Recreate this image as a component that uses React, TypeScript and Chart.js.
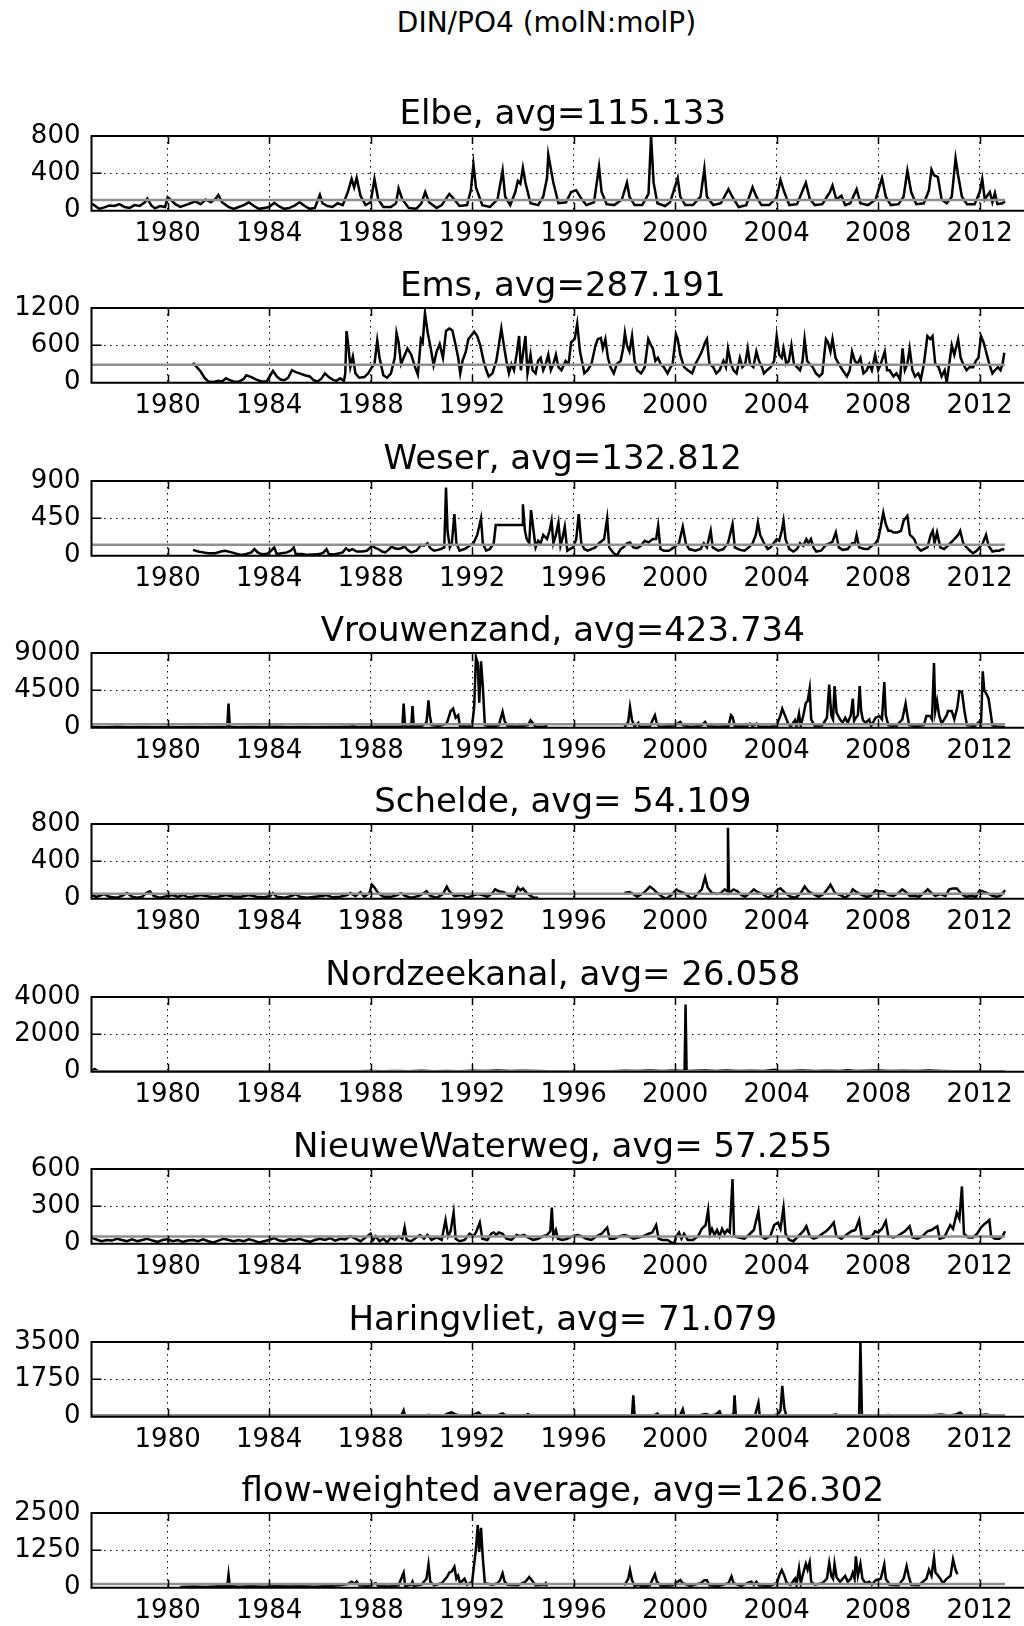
import React, { useEffect, useRef } from 'react';
import { Chart, registerables } from 'chart.js';

Chart.register(...registerables);

type Pt = [number, number | null];

const FONT = '"DejaVu Sans", "Liberation Sans", sans-serif';
const SUPTITLE = 'DIN/PO4 (molN:molP)';
const X_MIN = 1977;
const X_MAX = 2014.14;
const X_TICKS = [1980, 1984, 1988, 1992, 1996, 2000, 2004, 2008, 2012];
const AVG_SPAN = [1977, 2013];

const NAMES = ['Elbe', 'Ems', 'Weser', 'Vrouwenzand', 'Schelde', 'Nordzeekanal', 'NieuweWaterweg', 'Haringvliet', 'flow-weighted average'];
const AVG_TEXT = ['115.133', '287.191', '132.812', '423.734', ' 54.109', ' 26.058', ' 57.255', ' 71.079', '126.302'];
const AVGS = [115.133, 287.191, 132.812, 423.734, 54.109, 26.058, 57.255, 71.079, 126.302];
const Y_MAX = [800, 1200, 900, 9000, 800, 4000, 600, 3500, 2500];

const ELBE: Pt[] = [
  [1977.0, 75], [1977.1, 60], [1977.3, 20], [1977.5, 35], [1977.7, 55], [1977.9, 50], [1978.1, 70], [1978.3, 40], [1978.5, 30], [1978.7, 60], [1978.9, 50],
  [1979.1, 90], [1979.2, 130], [1979.35, 60], [1979.5, 25], [1979.7, 50], [1979.9, 40], [1980.0, 145], [1980.15, 110], [1980.3, 70], [1980.5, 40], [1980.7, 60], [1980.9, 80],
  [1981.1, 100], [1981.3, 70], [1981.5, 120], [1981.7, 90], [1981.9, 130], [1982.0, 170], [1982.15, 90], [1982.4, 40], [1982.6, 20], [1982.8, 40],
  [1983.0, 60], [1983.2, 90], [1983.4, 50], [1983.6, 20], [1983.8, 30], [1984.0, 40], [1984.2, 85], [1984.4, 45], [1984.6, 20], [1984.8, 30],
  [1985.0, 55], [1985.2, 90], [1985.4, 50], [1985.6, 20], [1985.8, 30], [1986.0, 170], [1986.1, 80], [1986.3, 50], [1986.5, 40], [1986.7, 80], [1986.9, 60],
  [1987.1, 200], [1987.25, 340], [1987.35, 250], [1987.45, 350], [1987.6, 160], [1987.8, 60], [1988.0, 90], [1988.15, 340], [1988.3, 120], [1988.5, 40], [1988.8, 40],
  [1989.0, 80], [1989.1, 240], [1989.25, 120], [1989.5, 30], [1989.8, 20], [1990.0, 80], [1990.15, 200], [1990.3, 90], [1990.6, 30], [1990.8, 60],
  [1991.0, 140], [1991.1, 180], [1991.3, 120], [1991.5, 50], [1991.8, 60], [1991.95, 220], [1992.05, 500], [1992.15, 250], [1992.4, 60], [1992.7, 40],
  [1993.0, 120], [1993.2, 430], [1993.3, 150], [1993.5, 60], [1993.7, 200], [1993.8, 320], [1993.9, 290], [1994.0, 460], [1994.1, 300], [1994.3, 80], [1994.6, 60], [1994.8, 150],
  [1994.95, 350], [1995.0, 600], [1995.1, 450], [1995.2, 300], [1995.4, 80], [1995.7, 90], [1995.9, 200], [1996.1, 220], [1996.3, 130], [1996.5, 60], [1996.8, 90],
  [1997.0, 470], [1997.1, 200], [1997.3, 70], [1997.6, 60], [1997.9, 120], [1998.1, 300], [1998.2, 150], [1998.4, 60], [1998.7, 60], [1998.95, 180],
  [1999.05, 800], [1999.15, 300], [1999.3, 80], [1999.6, 50], [1999.8, 90], [2000.1, 350], [2000.2, 150], [2000.4, 60], [2000.7, 60],
  [2001.0, 150], [2001.15, 450], [2001.25, 150], [2001.5, 60], [2001.8, 80], [2002.1, 230], [2002.25, 150], [2002.5, 40], [2002.8, 60],
  [2003.05, 250], [2003.2, 150], [2003.4, 60], [2003.7, 60], [2004.0, 140], [2004.15, 330], [2004.3, 200], [2004.5, 60], [2004.8, 70],
  [2005.15, 300], [2005.3, 130], [2005.5, 60], [2005.8, 70], [2006.1, 200], [2006.2, 270], [2006.35, 120], [2006.55, 160], [2006.7, 60], [2006.9, 80],
  [2007.15, 230], [2007.3, 80], [2007.6, 60], [2007.9, 120], [2008.15, 350], [2008.3, 150], [2008.5, 60], [2008.8, 70],
  [2009.0, 150], [2009.15, 430], [2009.3, 200], [2009.5, 70], [2009.8, 80], [2010.0, 220], [2010.1, 440], [2010.2, 380], [2010.35, 360], [2010.5, 120], [2010.7, 80], [2010.9, 150],
  [2011.05, 560], [2011.15, 380], [2011.3, 150], [2011.5, 70], [2011.8, 70], [2012.0, 200], [2012.1, 340], [2012.2, 120], [2012.4, 200], [2012.5, 90], [2012.6, 190], [2012.7, 70], [2012.9, 80], [2013.0, 100],
];

const EMS: Pt[] = [
  [1981.0, 320], [1981.15, 250], [1981.3, 180], [1981.45, 80], [1981.6, 20], [1981.8, 10], [1982.0, 30], [1982.15, 20], [1982.3, 70], [1982.45, 40], [1982.6, 20], [1982.8, 15],
  [1983.0, 60], [1983.1, 120], [1983.3, 90], [1983.5, 50], [1983.7, 20], [1983.9, 20], [1984.05, 120], [1984.15, 190], [1984.3, 100], [1984.45, 50], [1984.6, 40], [1984.75, 80], [1984.9, 200],
  [1985.05, 170], [1985.2, 150], [1985.4, 120], [1985.6, 100], [1985.75, 40], [1985.9, 20], [1986.05, 60], [1986.2, 150], [1986.35, 90], [1986.5, 50], [1986.65, 30], [1986.8, 70], [1986.95, 30],
  [1987.0, 150], [1987.05, 830], [1987.12, 600], [1987.2, 250], [1987.3, 420], [1987.4, 150], [1987.55, 80], [1987.75, 90], [1987.9, 150],
  [1988.05, 250], [1988.15, 300], [1988.26, 680], [1988.35, 400], [1988.5, 120], [1988.65, 80], [1988.8, 150], [1988.95, 400],
  [1989.02, 800], [1989.1, 650], [1989.2, 300], [1989.3, 400], [1989.45, 550], [1989.6, 450], [1989.75, 250], [1989.86, 130], [1989.98, 700],
  [1990.05, 650], [1990.14, 1120], [1990.25, 800], [1990.37, 550], [1990.48, 280], [1990.6, 500], [1990.72, 620], [1990.85, 400], [1990.97, 830],
  [1991.1, 870], [1991.22, 840], [1991.35, 600], [1991.45, 400], [1991.53, 150], [1991.62, 350], [1991.75, 500], [1991.85, 700], [1991.95, 750],
  [1992.08, 820], [1992.2, 750], [1992.32, 600], [1992.45, 350], [1992.56, 200], [1992.65, 100], [1992.8, 150], [1992.95, 350],
  [1993.05, 600], [1993.15, 870], [1993.25, 600], [1993.35, 350], [1993.45, 150], [1993.55, 300], [1993.65, 200], [1993.75, 450], [1993.85, 750], [1993.92, 200], [1993.98, 400],
  [1994.1, 750], [1994.18, 150], [1994.3, 450], [1994.38, 200], [1994.5, 150], [1994.6, 350], [1994.7, 400], [1994.8, 200], [1994.9, 300],
  [1995.0, 450], [1995.1, 200], [1995.2, 300], [1995.3, 450], [1995.4, 250], [1995.52, 200], [1995.68, 350], [1995.8, 300], [1995.9, 650],
  [1996.04, 700], [1996.14, 950], [1996.25, 500], [1996.35, 300], [1996.42, 150], [1996.55, 200], [1996.7, 300], [1996.86, 600], [1996.95, 700],
  [1997.07, 720], [1997.15, 550], [1997.25, 700], [1997.35, 400], [1997.45, 250], [1997.58, 150], [1997.7, 300], [1997.85, 350], [1997.95, 550],
  [1998.02, 800], [1998.1, 600], [1998.2, 500], [1998.3, 750], [1998.4, 350], [1998.5, 200], [1998.66, 150], [1998.8, 250], [1998.94, 700],
  [1999.05, 600], [1999.12, 550], [1999.22, 350], [1999.32, 400], [1999.43, 300], [1999.55, 250], [1999.7, 150], [1999.82, 250], [1999.9, 300],
  [2000.03, 780], [2000.1, 700], [2000.2, 450], [2000.35, 250], [2000.5, 200], [2000.67, 150], [2000.8, 300], [2000.93, 400],
  [2001.05, 500], [2001.18, 650], [2001.25, 700], [2001.35, 300], [2001.5, 250], [2001.62, 150], [2001.75, 200], [2001.9, 350],
  [2002.0, 250], [2002.08, 550], [2002.2, 300], [2002.3, 200], [2002.42, 150], [2002.55, 400], [2002.65, 250], [2002.76, 300], [2002.86, 550], [2002.95, 300],
  [2003.08, 250], [2003.2, 500], [2003.3, 350], [2003.42, 250], [2003.5, 150], [2003.62, 200], [2003.76, 250], [2003.9, 350],
  [2004.0, 750], [2004.1, 450], [2004.2, 400], [2004.27, 550], [2004.38, 300], [2004.48, 350], [2004.58, 600], [2004.68, 300], [2004.8, 250], [2004.92, 200],
  [2005.02, 350], [2005.1, 700], [2005.2, 350], [2005.3, 300], [2005.42, 250], [2005.55, 150], [2005.68, 100], [2005.8, 150], [2005.94, 700],
  [2006.02, 650], [2006.12, 500], [2006.2, 700], [2006.32, 400], [2006.45, 300], [2006.6, 200], [2006.77, 100], [2006.88, 200], [2006.97, 500],
  [2007.08, 350], [2007.18, 300], [2007.3, 400], [2007.42, 150], [2007.55, 200], [2007.65, 300], [2007.75, 200], [2007.88, 450],
  [2008.0, 200], [2008.1, 300], [2008.26, 500], [2008.35, 200], [2008.45, 200], [2008.6, 100], [2008.72, 150], [2008.86, 50], [2008.96, 550],
  [2009.05, 200], [2009.15, 300], [2009.24, 550], [2009.35, 200], [2009.45, 100], [2009.58, 150], [2009.68, 50], [2009.8, 300], [2009.94, 750],
  [2010.05, 700], [2010.14, 750], [2010.25, 300], [2010.38, 250], [2010.5, 100], [2010.62, 200], [2010.7, 0], [2010.8, 300], [2010.9, 600],
  [2011.0, 450], [2011.15, 700], [2011.25, 400], [2011.35, 300], [2011.48, 200], [2011.6, 250], [2011.74, 250], [2011.85, 350], [2011.95, 400],
  [2012.05, 750], [2012.15, 650], [2012.25, 500], [2012.38, 300], [2012.5, 150], [2012.6, 200], [2012.72, 250], [2012.82, 200], [2012.9, 300], [2012.97, 480],
];

const WESER: Pt[] = [
  [1981.0, 70], [1981.2, 50], [1981.4, 40], [1981.6, 30], [1981.88, 30], [1982.1, 50], [1982.27, 60], [1982.52, 40], [1982.75, 20], [1982.9, 10],
  [1983.1, 20], [1983.3, 40], [1983.42, 80], [1983.55, 40], [1983.68, 20], [1983.9, 20], [1984.05, 50], [1984.2, 100], [1984.3, 20], [1984.5, 30], [1984.7, 40], [1984.85, 60], [1984.97, 100],
  [1985.05, 20], [1985.3, 20], [1985.5, 10], [1985.75, 15], [1986.0, 20], [1986.15, 40], [1986.26, 80], [1986.35, 20], [1986.55, 15], [1986.77, 30], [1986.9, 40],
  [1987.03, 90], [1987.15, 60], [1987.28, 80], [1987.45, 50], [1987.67, 50], [1987.85, 60], [1988.06, 120], [1988.2, 90], [1988.3, 80], [1988.45, 50], [1988.57, 40], [1988.7, 70], [1988.83, 110], [1988.95, 90],
  [1989.08, 80], [1989.2, 90], [1989.34, 110], [1989.45, 70], [1989.6, 40], [1989.8, 60], [1989.99, 130], [1990.1, 120], [1990.24, 150], [1990.35, 90], [1990.5, 60], [1990.65, 70], [1990.76, 80], [1990.9, 100],
  [1990.97, 820], [1991.03, 300], [1991.12, 100], [1991.2, 150], [1991.3, 500], [1991.38, 150], [1991.5, 60], [1991.7, 80], [1991.9, 120],
  [1992.05, 150], [1992.2, 250], [1992.35, 450], [1992.42, 150], [1992.55, 60], [1992.7, 80], [1992.85, 150], [1992.93, 370], [1993.97, 370],
  [1994.0, 620], [1994.08, 300], [1994.15, 200], [1994.25, 150], [1994.32, 550], [1994.42, 300], [1994.5, 100], [1994.6, 180], [1994.7, 150], [1994.8, 250], [1994.95, 200],
  [1995.05, 300], [1995.13, 420], [1995.2, 150], [1995.3, 250], [1995.4, 400], [1995.48, 120], [1995.55, 200], [1995.65, 350], [1995.75, 60], [1995.85, 80], [1995.98, 100],
  [1996.1, 200], [1996.2, 500], [1996.3, 150], [1996.42, 80], [1996.55, 60], [1996.7, 80], [1996.85, 100], [1997.0, 150], [1997.2, 200], [1997.32, 450], [1997.4, 100], [1997.55, 40], [1997.7, 0], [1997.85, 80],
  [1997.96, 100], [1998.1, 150], [1998.22, 160], [1998.35, 100], [1998.5, 90], [1998.65, 120], [1998.8, 180], [1998.95, 160], [1999.12, 200], [1999.25, 200], [1999.33, 360], [1999.42, 80], [1999.55, 60], [1999.75, 60], [1999.95, 100],
  [2000.15, 150], [2000.3, 350], [2000.42, 150], [2000.55, 80], [2000.8, 60], [2001.0, 80], [2001.13, 150], [2001.25, 100], [2001.4, 300], [2001.48, 100], [2001.7, 60], [2001.9, 80],
  [2002.08, 150], [2002.26, 380], [2002.35, 100], [2002.55, 70], [2002.73, 60], [2002.9, 100], [2003.05, 150], [2003.18, 250], [2003.26, 400], [2003.35, 250], [2003.5, 150], [2003.65, 80], [2003.76, 100], [2003.88, 150],
  [2004.0, 200], [2004.1, 180], [2004.2, 300], [2004.27, 420], [2004.35, 200], [2004.5, 80], [2004.66, 50], [2004.8, 80], [2004.92, 150],
  [2005.05, 120], [2005.17, 200], [2005.25, 150], [2005.35, 200], [2005.45, 100], [2005.56, 50], [2005.75, 60], [2005.94, 130],
  [2006.1, 150], [2006.2, 170], [2006.33, 280], [2006.45, 100], [2006.6, 70], [2006.8, 80], [2006.97, 150], [2007.08, 150], [2007.15, 250], [2007.25, 100], [2007.45, 80], [2007.6, 80], [2007.75, 120], [2007.9, 150],
  [2008.0, 200], [2008.1, 350], [2008.2, 520], [2008.3, 380], [2008.4, 300], [2008.5, 300], [2008.6, 280], [2008.75, 280], [2008.9, 300], [2009.0, 420], [2009.15, 480],
  [2009.25, 250], [2009.33, 230], [2009.42, 200], [2009.55, 100], [2009.68, 60], [2009.8, 80], [2009.94, 100], [2010.07, 250], [2010.15, 300], [2010.22, 150], [2010.32, 280], [2010.45, 100], [2010.6, 80], [2010.84, 150],
  [2011.0, 200], [2011.15, 250], [2011.23, 300], [2011.35, 150], [2011.48, 100], [2011.62, 60], [2011.74, 30], [2011.88, 60], [2012.0, 100], [2012.12, 150], [2012.25, 250], [2012.35, 120], [2012.5, 50], [2012.65, 60], [2012.77, 60], [2012.9, 80], [2012.97, 70],
];

const VROUWENZAND: Pt[] = [
  [1977.0, 80], [1977.5, 60], [1978.0, 100], [1978.5, 50], [1979.0, 80], [1979.5, 40], [1980.0, 90], [1980.5, 60], [1981.0, 70], [1981.5, 50], [1982.0, 80],
  [1982.35, 100], [1982.4, 2900], [1982.45, 100], [1982.8, 60], [1983.3, 80], [1983.8, 50], [1984.3, 100], [1984.8, 60], [1985.3, 80], [1985.8, 50], [1986.3, 70], [1986.8, 90],
  [1987.2, 150], [1987.3, 250], [1987.4, 120], [1987.8, 80], [1988.3, 120], [1988.8, 100], [1989.25, 150], [1989.3, 2900], [1989.36, 150], [1989.6, 150], [1989.65, 2600], [1989.7, 150],
  [1990.0, 200], [1990.2, 600], [1990.28, 3300], [1990.33, 1500], [1990.4, 300], [1990.7, 200], [1991.0, 500], [1991.15, 2000], [1991.25, 2300], [1991.35, 1200], [1991.45, 1500], [1991.52, 200], [1991.8, 150],
  [1992.0, 300], [1992.08, 2500], [1992.15, 8500], [1992.22, 7800], [1992.28, 3000], [1992.35, 8000], [1992.42, 5000], [1992.5, 300], [1992.8, 150],
  [1993.05, 300], [1993.2, 1900], [1993.28, 800], [1993.4, 200], [1993.8, 150], [1994.2, 300], [1994.3, 900], [1994.4, 500], [1994.5, 100], [1994.85, 150], [1994.9, 300], [1994.95, 100],
  [1995.3, null], [1997.9, null],
  [1998.0, 100], [1998.15, 700], [1998.22, 2500], [1998.3, 900], [1998.4, 150], [1998.55, 600], [1998.6, 100], [1999.0, 150], [1999.2, 1500], [1999.28, 500], [1999.4, 100], [1999.9, 200],
  [2000.1, 500], [2000.2, 700], [2000.3, 300], [2000.6, 100], [2001.05, 300], [2001.18, 700], [2001.3, 200], [2001.7, 100], [2002.1, 200], [2002.2, 1500], [2002.26, 1300], [2002.35, 200], [2002.8, 150],
  [2002.95, 500], [2003.05, 200], [2003.2, 500], [2003.3, 150], [2003.7, 100], [2004.0, 300], [2004.15, 1500], [2004.22, 2300], [2004.35, 1300], [2004.45, 500], [2004.55, 150], [2004.72, 900], [2004.78, 150], [2004.88, 1700], [2004.95, 200],
  [2005.05, 1500], [2005.15, 3000], [2005.22, 3200], [2005.3, 4700], [2005.36, 1000], [2005.5, 200], [2005.8, 300], [2005.98, 1200], [2006.07, 5200], [2006.15, 1500], [2006.22, 1000], [2006.28, 5000], [2006.36, 1800],
  [2006.5, 1000], [2006.6, 600], [2006.7, 1200], [2006.8, 600], [2006.92, 1500], [2007.0, 3500], [2007.05, 800], [2007.12, 1200], [2007.2, 1500], [2007.27, 5000], [2007.33, 2000], [2007.4, 900], [2007.5, 600], [2007.65, 1000], [2007.72, 200],
  [2007.9, 1200], [2008.05, 1400], [2008.15, 1000], [2008.24, 5500], [2008.3, 1500], [2008.4, 300], [2008.7, 150], [2008.95, 1000], [2009.08, 2900], [2009.15, 1500], [2009.22, 300], [2009.5, 200], [2009.8, 300],
  [2009.9, 1400], [2010.05, 1400], [2010.12, 1000], [2010.2, 7800], [2010.25, 2000], [2010.32, 3200], [2010.4, 1500], [2010.5, 500], [2010.7, 1500], [2010.75, 2000], [2010.9, 2000], [2011.0, 1000],
  [2011.12, 2500], [2011.2, 4400], [2011.3, 4300], [2011.4, 2000], [2011.5, 300], [2011.8, 200], [2011.98, 700], [2012.05, 200], [2012.12, 6800], [2012.18, 4500], [2012.28, 4000], [2012.35, 3500], [2012.5, 300], [2012.7, 100], [2013.0, 80],
];

const SCHELDE: Pt[] = [
  [1977.0, 40], [1977.2, 20], [1977.5, 50], [1977.7, 20], [1978.0, 10], [1978.2, 30], [1978.4, 60], [1978.6, 20], [1978.8, 10], [1979.0, 20], [1979.15, 60], [1979.3, 80], [1979.45, 30], [1979.7, 10],
  [1980.0, 30], [1980.2, 40], [1980.4, 20], [1980.6, 40], [1980.8, 15], [1981.0, 20], [1981.3, 40], [1981.5, 30], [1981.8, 15], [1982.0, 20], [1982.3, 40], [1982.6, 20], [1982.9, 20],
  [1983.2, 40], [1983.5, 20], [1983.8, 15], [1984.05, 30], [1984.15, 60], [1984.3, 20], [1984.6, 10], [1984.9, 30], [1985.05, 50], [1985.2, 20], [1985.5, 10], [1985.8, 20],
  [1986.1, 30], [1986.25, 40], [1986.5, 15], [1986.8, 20], [1987.1, 40], [1987.2, 60], [1987.4, 30], [1987.6, 70], [1987.75, 20], [1987.95, 60], [1988.05, 150], [1988.15, 120], [1988.3, 60], [1988.5, 20], [1988.8, 20],
  [1989.05, 40], [1989.2, 60], [1989.35, 30], [1989.6, 10], [1989.9, 30], [1990.1, 60], [1990.2, 80], [1990.35, 30], [1990.6, 10], [1990.85, 50], [1991.0, 130], [1991.1, 80], [1991.3, 30], [1991.6, 40], [1991.8, 10],
  [1992.0, 30], [1992.2, 50], [1992.4, 40], [1992.6, 20], [1992.8, 60], [1992.9, 100], [1993.05, 80], [1993.25, 70], [1993.45, 30], [1993.65, 20], [1993.8, 120], [1993.9, 90], [1994.0, 110], [1994.15, 60], [1994.3, 30], [1994.45, 10], [1994.6, 10],
  [1994.7, null], [1997.9, null],
  [1998.0, 60], [1998.2, 70], [1998.35, 50], [1998.5, 20], [1998.75, 60], [1998.9, 100], [1999.0, 130], [1999.15, 100], [1999.3, 60], [1999.5, 20], [1999.65, 0], [1999.85, 40],
  [2000.05, 100], [2000.15, 80], [2000.35, 60], [2000.55, 20], [2000.7, 0], [2000.9, 60], [2001.05, 100], [2001.18, 230], [2001.28, 120], [2001.45, 60], [2001.65, 50], [2001.8, 60], [2001.95, 100],
  [2002.05, 80], [2002.08, 760], [2002.12, 60], [2002.3, 100], [2002.45, 80], [2002.6, 40], [2002.75, 20], [2002.95, 60], [2003.1, 100], [2003.25, 70], [2003.45, 50], [2003.65, 10], [2003.85, 40],
  [2004.05, 100], [2004.15, 110], [2004.35, 60], [2004.55, 20], [2004.75, 10], [2004.95, 60], [2005.1, 130], [2005.25, 80], [2005.45, 50], [2005.65, 20], [2005.85, 50],
  [2006.05, 120], [2006.12, 150], [2006.3, 60], [2006.5, 40], [2006.7, 10], [2006.9, 50], [2007.0, 100], [2007.15, 70], [2007.35, 40], [2007.55, 20], [2007.7, 30], [2007.9, 90],
  [2008.05, 80], [2008.2, 80], [2008.4, 40], [2008.6, 30], [2008.8, 60], [2008.95, 100], [2009.1, 70], [2009.25, 30], [2009.45, 30], [2009.6, 20], [2009.8, 60], [2009.95, 100],
  [2010.1, 60], [2010.25, 30], [2010.45, 50], [2010.65, 30], [2010.8, 100], [2010.95, 110], [2011.1, 110], [2011.25, 60], [2011.45, 20], [2011.65, 30], [2011.85, 20],
  [2012.0, 90], [2012.1, 80], [2012.3, 60], [2012.5, 30], [2012.7, 20], [2012.85, 40], [2013.0, 90],
];

const NORDZEEKANAL: Pt[] = [
  [1977.0, 30], [1977.12, 150], [1977.25, 40], [1977.5, 20], [1978.0, 30], [1978.5, 20], [1979.0, 30], [1979.5, 15], [1980.0, 25], [1980.5, 20], [1981.0, 30], [1981.5, 15],
  [1982.0, 25], [1982.5, 20], [1983.0, 30], [1983.5, 15], [1984.0, 25], [1984.5, 20], [1985.0, 30], [1985.5, 15], [1986.0, 25], [1986.5, 20], [1987.0, 30], [1987.5, 20],
  [1988.0, 40], [1988.5, 20], [1989.0, 40], [1989.5, 30], [1990.0, 50], [1990.5, 30], [1991.0, 40], [1991.5, 30], [1992.0, 50], [1992.5, 40], [1993.0, 60], [1993.5, 40],
  [1994.0, 50], [1994.5, 40], [1995.0, 30], [1995.5, 20], [1996.0, 30], [1996.5, 20], [1997.0, 30], [1997.5, 30], [1998.0, 50], [1998.5, 40], [1999.0, 60], [1999.5, 40],
  [2000.0, 60], [2000.37, 40], [2000.41, 3600], [2000.45, 40], [2000.8, 50], [2001.2, 60], [2001.6, 40], [2002.0, 60], [2002.5, 40], [2003.0, 50], [2003.5, 40], [2003.94, 100],
  [2004.1, 40], [2004.5, 40], [2005.0, 60], [2005.5, 40], [2006.0, 50], [2006.5, 40], [2006.8, 80], [2007.1, 40], [2007.5, 50], [2008.0, 60], [2008.5, 40], [2009.0, 50], [2009.5, 40], [2010.0, 60], [2010.5, 40], [2011.0, 30],
];

const NIEUWEWATERWEG: Pt[] = [
  [1977.0, 60], [1977.1, 40], [1977.25, 30], [1977.4, 20], [1977.6, 30], [1977.8, 25], [1978.0, 40], [1978.2, 30], [1978.4, 20], [1978.6, 35], [1978.8, 20],
  [1979.0, 30], [1979.2, 40], [1979.4, 25], [1979.6, 15], [1979.8, 30], [1980.0, 35], [1980.2, 20], [1980.4, 30], [1980.6, 15], [1980.8, 25],
  [1981.0, 30], [1981.2, 20], [1981.4, 35], [1981.6, 20], [1981.8, 10], [1982.0, 25], [1982.2, 40], [1982.4, 30], [1982.6, 20], [1982.8, 30],
  [1983.0, 20], [1983.2, 35], [1983.4, 25], [1983.6, 10], [1983.8, 20], [1984.0, 30], [1984.2, 45], [1984.4, 25], [1984.6, 20], [1984.8, 35],
  [1985.0, 30], [1985.2, 40], [1985.4, 25], [1985.6, 15], [1985.8, 30], [1986.0, 40], [1986.2, 30], [1986.4, 45], [1986.6, 25], [1986.8, 40],
  [1987.0, 35], [1987.2, 60], [1987.4, 40], [1987.6, 20], [1987.8, 50], [1988.0, 80], [1988.1, 30], [1988.2, 60], [1988.35, 20], [1988.5, 40], [1988.65, 10], [1988.8, 50], [1988.95, 30],
  [1989.1, 60], [1989.25, 40], [1989.34, 130], [1989.42, 30], [1989.6, 20], [1989.8, 50], [1989.95, 70], [1990.1, 40], [1990.24, 70], [1990.4, 30], [1990.6, 50], [1990.8, 30],
  [1990.95, 190], [1991.05, 60], [1991.15, 100], [1991.27, 250], [1991.35, 40], [1991.5, 20], [1991.7, 30], [1991.9, 80], [1992.05, 60], [1992.15, 90], [1992.3, 170], [1992.4, 40], [1992.6, 30],
  [1992.75, 80], [1992.85, 90], [1992.95, 70], [1993.05, 90], [1993.2, 80], [1993.35, 40], [1993.55, 30], [1993.75, 70], [1993.9, 60], [1994.05, 70], [1994.2, 50], [1994.4, 30], [1994.6, 40], [1994.8, 60], [1994.95, 70],
  [1995.08, 100], [1995.14, 290], [1995.2, 60], [1995.3, 110], [1995.38, 40], [1995.55, 30], [1995.75, 40], [1995.95, 60], [1996.15, 70], [1996.3, 60], [1996.5, 40], [1996.7, 30], [1996.9, 60],
  [1997.1, 80], [1997.32, 130], [1997.42, 40], [1997.6, 40], [1997.8, 60], [1998.0, 70], [1998.15, 60], [1998.35, 40], [1998.55, 50], [1998.75, 60], [1998.95, 80],
  [1999.1, 90], [1999.25, 150], [1999.35, 40], [1999.5, 30], [1999.7, 30], [1999.85, 10], [1999.95, 0], [2000.05, 60], [2000.15, 90], [2000.25, 40], [2000.35, 80], [2000.5, 30], [2000.7, 30], [2000.9, 60],
  [2001.05, 120], [2001.2, 150], [2001.3, 270], [2001.37, 80], [2001.45, 120], [2001.55, 70], [2001.65, 110], [2001.75, 60], [2001.85, 120], [2001.95, 80],
  [2002.05, 110], [2002.15, 90], [2002.26, 520], [2002.32, 60], [2002.5, 50], [2002.73, 40], [2002.9, 70], [2003.1, 110], [2003.28, 260], [2003.38, 60], [2003.55, 40], [2003.75, 60], [2003.9, 150],
  [2004.05, 170], [2004.15, 120], [2004.27, 290], [2004.35, 80], [2004.5, 30], [2004.66, 20], [2004.85, 60], [2005.05, 100], [2005.17, 140], [2005.3, 60], [2005.45, 40], [2005.6, 50], [2005.8, 80], [2005.95, 100],
  [2006.1, 130], [2006.25, 170], [2006.35, 60], [2006.55, 40], [2006.8, 80], [2006.95, 100], [2007.1, 110], [2007.25, 190], [2007.35, 50], [2007.55, 40], [2007.75, 60], [2007.88, 100],
  [2008.0, 90], [2008.15, 120], [2008.3, 180], [2008.4, 60], [2008.6, 50], [2008.75, 60], [2008.9, 80], [2009.05, 100], [2009.24, 140], [2009.35, 50], [2009.55, 40], [2009.75, 60], [2009.94, 100],
  [2010.1, 110], [2010.25, 130], [2010.33, 140], [2010.42, 40], [2010.6, 50], [2010.84, 150], [2010.95, 120], [2011.1, 250], [2011.2, 200], [2011.3, 460], [2011.38, 80], [2011.55, 50], [2011.74, 50], [2011.9, 80],
  [2012.05, 130], [2012.15, 150], [2012.38, 190], [2012.45, 60], [2012.6, 40], [2012.77, 40], [2012.9, 60], [2013.0, 100],
];

const HARINGVLIET: Pt[] = [
  [1988.0, 10], [1988.4, 20], [1988.8, 10], [1989.2, 30], [1989.3, 300], [1989.36, 20], [1989.7, 40], [1990.0, 60], [1990.3, 80], [1990.6, 40], [1990.9, 60],
  [1991.05, 150], [1991.2, 200], [1991.35, 100], [1991.6, 30], [1992.0, 60], [1992.25, 200], [1992.35, 80], [1992.6, 30], [1993.0, 60], [1993.2, 150], [1993.35, 40], [1993.7, 20],
  [1994.1, 60], [1994.2, 120], [1994.35, 30], [1994.8, 20], [1995.3, 10], [1996.0, 10], [1996.8, 10], [1997.5, 10], [1998.1, 30], [1998.3, 80], [1998.35, 1000], [1998.4, 60], [1998.8, 40],
  [1999.2, 80], [1999.3, 150], [1999.4, 30], [1999.8, 20], [2000.2, 80], [2000.3, 350], [2000.36, 40], [2000.7, 20], [2001.0, 80], [2001.2, 130], [2001.4, 60], [2001.6, 100], [2001.75, 250], [2001.82, 30],
  [2002.1, 50], [2002.3, 100], [2002.34, 1000], [2002.39, 50], [2002.8, 30], [2003.15, 80], [2003.28, 650], [2003.33, 60], [2003.7, 30],
  [2004.05, 100], [2004.15, 300], [2004.22, 1450], [2004.3, 400], [2004.38, 50], [2004.8, 20], [2005.2, 50], [2005.6, 20], [2006.0, 30], [2006.34, 100], [2006.5, 30], [2006.9, 40],
  [2007.25, 60], [2007.3, 3500], [2007.36, 80], [2007.7, 30], [2008.1, 40], [2008.4, 80], [2008.7, 20], [2009.1, 50], [2009.5, 30], [2010.0, 60], [2010.5, 100], [2010.8, 50],
  [2011.1, 120], [2011.23, 200], [2011.35, 60], [2011.7, 30], [2012.1, 80], [2012.25, 100], [2012.5, 40], [2013.0, 60],
];

const FLOW_WEIGHTED: Pt[] = [
  [1980.5, 20], [1981.0, 40], [1981.5, 20], [1982.0, 50], [1982.35, 60], [1982.4, 440], [1982.45, 60], [1982.8, 30], [1983.3, 50], [1983.8, 30], [1984.3, 60], [1984.8, 40],
  [1985.3, 50], [1985.8, 30], [1986.3, 60], [1986.8, 80], [1987.1, 120], [1987.25, 200], [1987.35, 130], [1987.45, 210], [1987.55, 80], [1987.9, 60], [1988.2, 150], [1988.3, 60], [1988.7, 40],
  [1989.1, 80], [1989.3, 500], [1989.36, 60], [1989.6, 100], [1989.65, 200], [1989.7, 60], [1990.0, 100], [1990.2, 300], [1990.28, 780], [1990.35, 200], [1990.5, 80], [1990.8, 150],
  [1991.0, 350], [1991.1, 500], [1991.2, 550], [1991.3, 700], [1991.38, 300], [1991.45, 400], [1991.52, 150], [1991.7, 300], [1991.8, 100],
  [1992.0, 200], [1992.08, 800], [1992.15, 1300], [1992.22, 2100], [1992.28, 1200], [1992.35, 2000], [1992.42, 1000], [1992.5, 150], [1992.8, 100],
  [1993.0, 150], [1993.1, 250], [1993.2, 480], [1993.28, 200], [1993.4, 100], [1993.8, 80], [1994.1, 200], [1994.25, 360], [1994.35, 250], [1994.5, 80], [1994.85, 100], [1994.9, 150], [1994.95, 50],
  [1995.1, null], [1997.95, null],
  [1998.0, 80], [1998.15, 300], [1998.22, 590], [1998.3, 250], [1998.4, 60], [1998.55, 100], [1998.7, 50], [1999.0, 80], [1999.2, 450], [1999.28, 200], [1999.45, 50], [1999.9, 80],
  [2000.1, 200], [2000.2, 260], [2000.3, 150], [2000.6, 60], [2001.0, 150], [2001.15, 250], [2001.25, 250], [2001.35, 80], [2001.7, 60], [2002.1, 150], [2002.22, 380], [2002.3, 150], [2002.6, 60],
  [2002.9, 180], [2003.0, 200], [2003.1, 100], [2003.2, 200], [2003.3, 80], [2003.7, 60], [2004.0, 150], [2004.1, 400], [2004.2, 590], [2004.3, 400], [2004.4, 150], [2004.55, 100], [2004.72, 300], [2004.78, 100], [2004.88, 650], [2004.95, 150],
  [2005.05, 500], [2005.15, 800], [2005.22, 600], [2005.3, 850], [2005.36, 200], [2005.5, 100], [2005.8, 150], [2005.98, 300], [2006.07, 830], [2006.15, 400], [2006.22, 300], [2006.28, 800], [2006.36, 350],
  [2006.5, 200], [2006.7, 400], [2006.8, 200], [2006.92, 300], [2007.0, 500], [2007.07, 300], [2007.12, 1050], [2007.2, 400], [2007.3, 800], [2007.38, 300], [2007.5, 150], [2007.65, 200], [2007.75, 100],
  [2007.9, 250], [2008.1, 300], [2008.24, 780], [2008.3, 300], [2008.45, 100], [2008.8, 80], [2009.0, 300], [2009.12, 720], [2009.2, 400], [2009.3, 100], [2009.6, 80], [2009.9, 300],
  [2010.0, 600], [2010.1, 400], [2010.2, 1000], [2010.26, 500], [2010.32, 450], [2010.45, 300], [2010.55, 150], [2010.7, 300], [2010.85, 400], [2010.95, 950], [2011.05, 600], [2011.12, 450],
];

const SERIES: Pt[][] = [ELBE, EMS, WESER, VROUWENZAND, SCHELDE, NORDZEEKANAL, NIEUWEWATERWEG, HARINGVLIET, FLOW_WEIGHTED];

// ---- layout (positions/sizes, kept apart from the data) ----
const CANVAS_W = 1093;
const PANEL_H = 172;
const PLOT_TOPS = [136, 308, 481, 653, 824, 997, 1169, 1342, 1513];
const PLOT_H = 74.7;
const TITLE_SPACE = 56;
const TITLE_BASELINE_GAP = 12.5;
const PLOT_LEFT = 91.5;
const PLOT_RIGHT = 1034;
const GRAY = '#8f8f8f';

const panelTitlePlugin = {
  id: 'panelTitle',
  afterDraw(chart: any, _args: any, opts: any) {
    const { ctx, chartArea } = chart;
    ctx.save();
    ctx.fillStyle = '#000';
    ctx.font = `34px ${FONT}`;
    ctx.textAlign = 'center';
    ctx.textBaseline = 'alphabetic';
    ctx.fillText(opts.text, (chartArea.left + chartArea.right) / 2, chartArea.top - TITLE_BASELINE_GAP);
    ctx.restore();
  },
};

const framePlugin = {
  id: 'frame',
  afterDatasetsDraw(chart: any) {
    const { ctx, chartArea } = chart;
    const { left, right, top, bottom } = chartArea;
    const xs = chart.scales.x;
    const ys = chart.scales.y;
    ctx.save();
    ctx.strokeStyle = '#000';
    ctx.lineWidth = 1.5;
    ctx.beginPath();
    for (const t of X_TICKS) {
      const px = Math.round(xs.getPixelForValue(t)) + 0.5;
      ctx.moveTo(px, bottom);
      ctx.lineTo(px, bottom - 8);
      ctx.moveTo(px, top);
      ctx.lineTo(px, top + 8);
    }
    const ym = ys.getPixelForValue(ys.max / 2);
    ctx.moveTo(left, ym);
    ctx.lineTo(left + 10, ym);
    ctx.moveTo(right, ym);
    ctx.lineTo(right - 10, ym);
    ctx.stroke();
    ctx.lineWidth = 2;
    ctx.beginPath();
    ctx.moveTo(left - 1, top);
    ctx.lineTo(right + 1, top);
    ctx.moveTo(left - 1, bottom);
    ctx.lineTo(right + 1, bottom);
    ctx.moveTo(left, top);
    ctx.lineTo(left, bottom);
    ctx.moveTo(right, top);
    ctx.lineTo(right, bottom);
    ctx.stroke();
    ctx.restore();
  },
};

function Panel({ index }: { index: number }) {
  const ref = useRef<HTMLCanvasElement>(null);

  useEffect(() => {
    const canvas = ref.current;
    if (!canvas) return;
    const yMax = Y_MAX[index];
    const avg = AVGS[index];
    const tickFont = { family: FONT, size: 26, weight: 'normal' as const };
    const chart = new Chart(canvas, {
      type: 'line',
      data: {
        datasets: [
          {
            data: AVG_SPAN.map((x) => ({ x, y: avg })),
            borderColor: GRAY,
            borderWidth: 2.5,
            pointRadius: 0,
            tension: 0,
          },
          {
            data: SERIES[index].map(([x, y]) => ({ x, y })),
            borderColor: '#000',
            borderWidth: 2.5,
            pointRadius: 0,
            tension: 0,
            spanGaps: false,
          },
        ],
      },
      options: {
        animation: false,
        responsive: false,
        maintainAspectRatio: false,
        events: [],
        layout: { padding: { left: 0, right: CANVAS_W - PLOT_RIGHT, top: TITLE_SPACE, bottom: 0 } },
        plugins: {
          legend: { display: false },
          tooltip: { enabled: false },
          title: { display: false },
          panelTitle: { text: `${NAMES[index]}, avg=${AVG_TEXT[index]}` },
        },
        scales: {
          x: {
            type: 'linear',
            min: X_MIN,
            max: X_MAX,
            afterBuildTicks: (s: any) => {
              s.ticks = X_TICKS.map((v) => ({ value: v }));
            },
            afterFit: (s: any) => {
              s.height = PANEL_H - TITLE_SPACE - PLOT_H;
            },
            grid: { color: '#000', lineWidth: 1, drawTicks: false },
            border: { display: false, dash: [1.5, 4.5] },
            ticks: {
              color: '#000',
              font: tickFont,
              padding: 8,
              maxRotation: 0,
              autoSkip: false,
              callback: (v: any) => String(v),
            },
          },
          y: {
            type: 'linear',
            min: 0,
            max: yMax,
            afterBuildTicks: (s: any) => {
              s.ticks = [0, yMax / 2, yMax].map((v) => ({ value: v }));
            },
            afterFit: (s: any) => {
              s.width = PLOT_LEFT;
            },
            grid: { color: '#000', lineWidth: 1, drawTicks: false },
            border: { display: false, dash: [1.5, 4.5] },
            ticks: {
              color: '#000',
              font: tickFont,
              padding: 11,
              callback: (v: any) => String(v),
            },
          },
        },
      },
      plugins: [framePlugin, panelTitlePlugin],
    } as any);
    return () => chart.destroy();
  }, [index]);

  return (
    <canvas
      ref={ref}
      width={CANVAS_W}
      height={PANEL_H}
      style={{
        position: 'absolute',
        left: 0,
        top: PLOT_TOPS[index] - TITLE_SPACE,
        width: CANVAS_W,
        height: PANEL_H,
        display: 'block',
      }}
    />
  );
}

export default function App() {
  return (
    <div
      style={{
        position: 'absolute',
        left: 0,
        top: 0,
        width: 1024,
        height: 1626,
        overflow: 'hidden',
        background: '#fff',
      }}
    >
      <div
        style={{
          position: 'absolute',
          left: 0,
          top: 9,
          width: CANVAS_W,
          textAlign: 'center',
          fontFamily: FONT,
          fontSize: 28,
          lineHeight: '28px',
          color: '#000',
          whiteSpace: 'pre',
        }}
      >
        {SUPTITLE}
      </div>
      {SERIES.map((_, i) => (
        <Panel key={i} index={i} />
      ))}
    </div>
  );
}
